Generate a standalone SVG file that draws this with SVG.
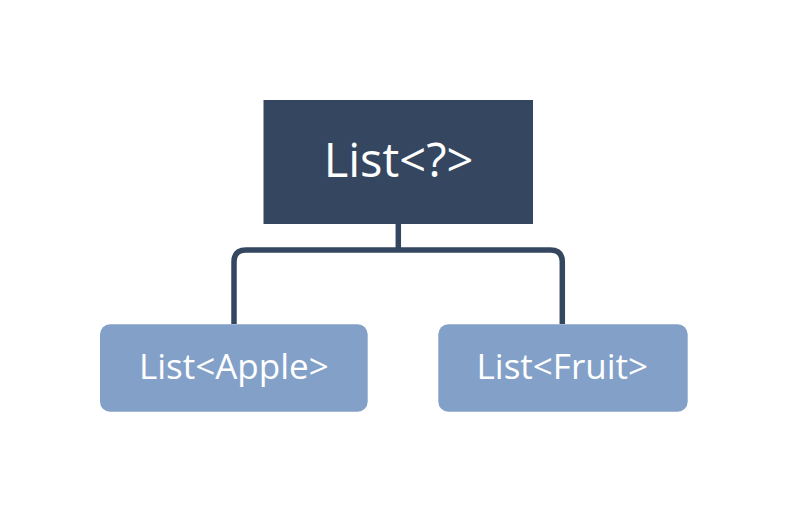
<svg xmlns="http://www.w3.org/2000/svg" width="788" height="512" viewBox="0 0 788 512">
<style>
.t{font-family:"Open Sans","Noto Sans",sans-serif;fill:#ffffff;text-anchor:middle}
.c{fill:none;stroke:#354760;stroke-width:5.5}
</style>
<rect width="788" height="512" fill="#ffffff"/>
<g id="connectors">
<path class="c" d="M398.3,224 V250"/>
<path class="c" d="M234,324 V262 Q234,250 246,250 H550.3 Q562.3,250 562.3,262 V324"/>
</g>
<g id="root">
<rect x="263.5" y="100" width="269.5" height="124" fill="#354760"/>
<text class="t" x="398.5" y="177" font-size="47">List&lt;?&gt;</text>
</g>
<g id="apple">
<rect x="100" y="324.3" width="267.7" height="87.4" rx="10" fill="#83a1c8"/>
<text class="t" x="233.8" y="379" font-size="35">List&lt;Apple&gt;</text>
</g>
<g id="fruit">
<rect x="438.3" y="324.3" width="249.4" height="87.4" rx="10" fill="#83a1c8"/>
<text class="t" x="562.3" y="379" font-size="35">List&lt;Fruit&gt;</text>
</g>
</svg>
